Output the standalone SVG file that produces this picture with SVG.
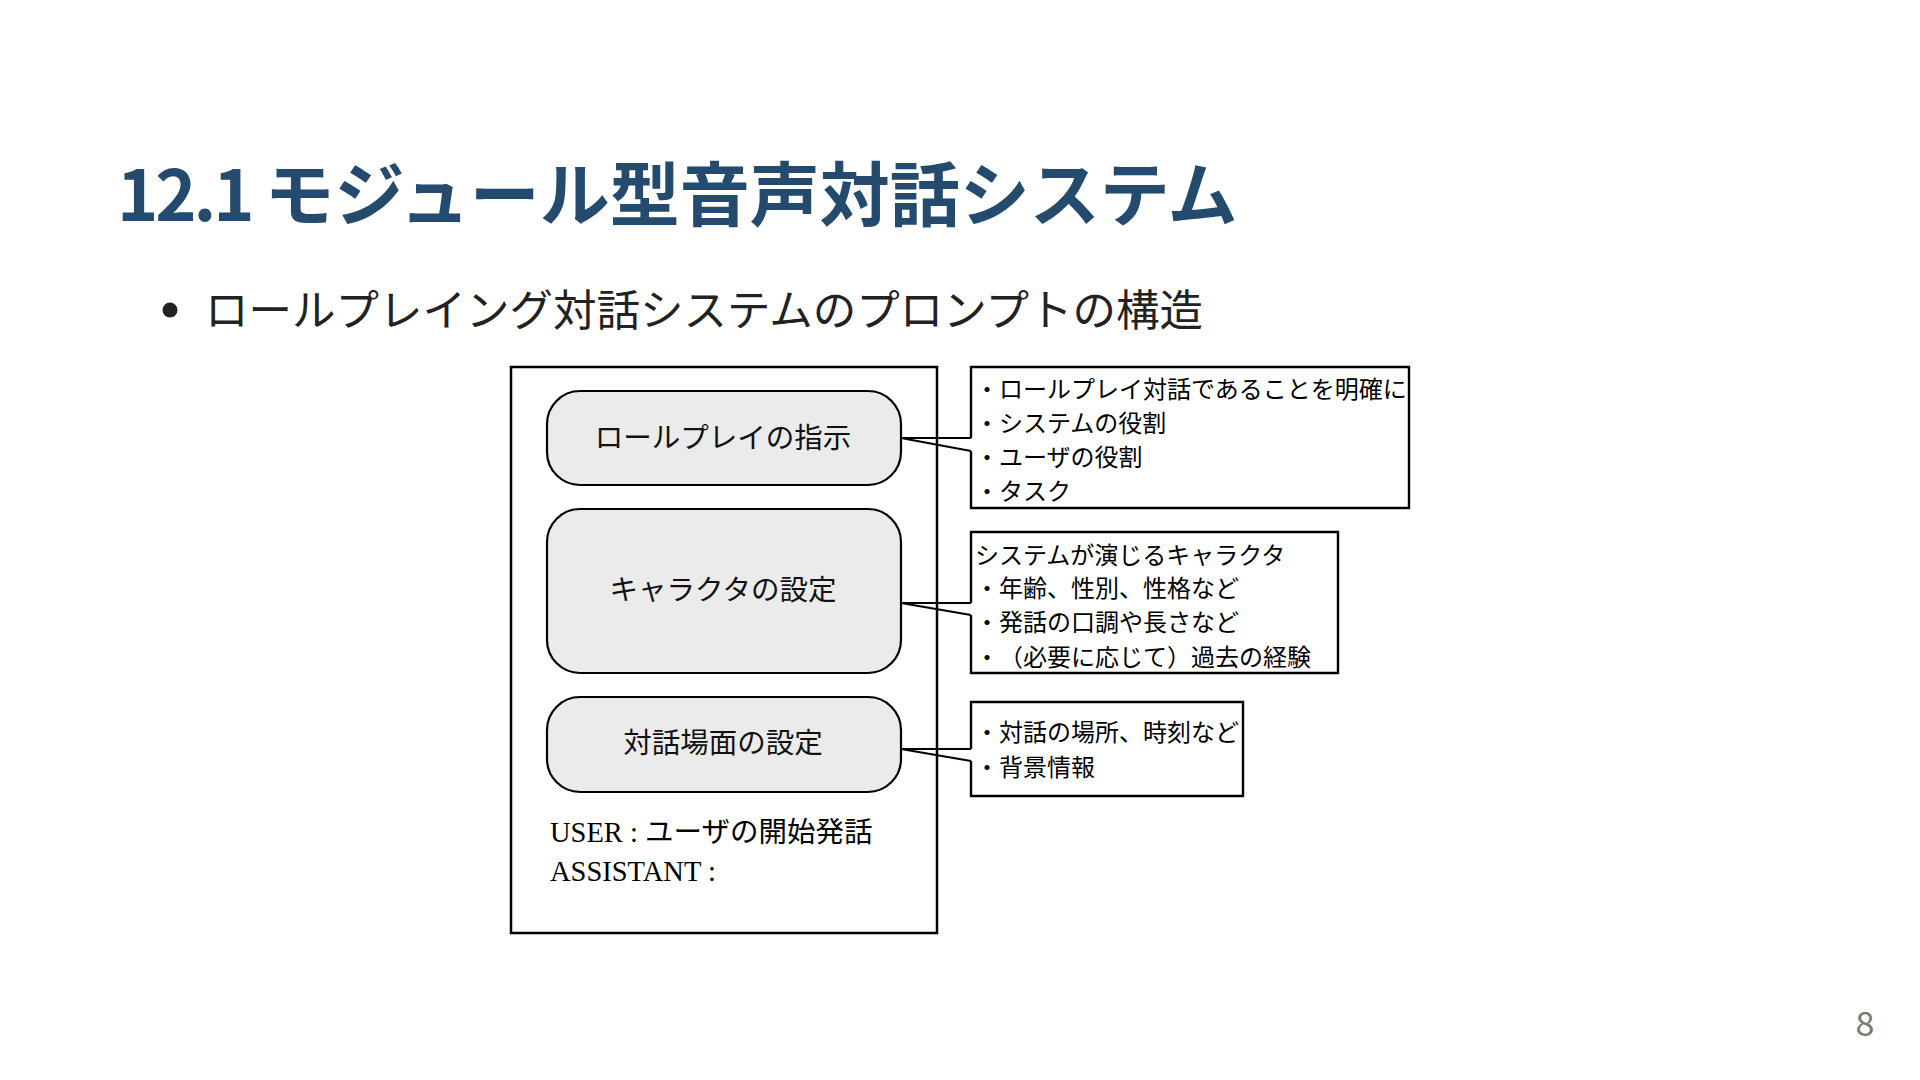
<svg xmlns="http://www.w3.org/2000/svg" width="1920" height="1080" viewBox="0 0 1920 1080">
<style>
.jp{font-family:"Noto Sans CJK JP","Noto Sans",sans-serif;text-spacing-trim:space-all;}
.title{font-size:70px;font-weight:bold;fill:#244a6e;}
.bullet{font-size:43.5px;fill:#222;}
.node{fill:#ebebeb;stroke:#000;stroke-width:2.2;}
.lbl{font-size:28.5px;fill:#111;text-anchor:middle;}
.co{fill:none;stroke:#000;stroke-width:2.4;}
.cot{font-size:24px;fill:#000;}
.frame{fill:#fff;stroke:#000;stroke-width:2.5;}
.conn{fill:none;stroke:#000;stroke-width:2.2;stroke-linejoin:miter;}
.ser{font-family:"Liberation Serif","Noto Sans CJK JP",serif;font-size:28.5px;fill:#000;}
</style>
<rect width="1920" height="1080" fill="#fff"/>
<text class="jp title" x="117" y="221"><tspan letter-spacing="-3">12.1 </tspan>モジュール型音声対話システム</text>
<circle cx="170" cy="310" r="7.5" fill="#222"/>
<text class="jp bullet" x="205" y="326">ロールプレイング対話システムのプロンプトの構造</text>

<g id="frame">
<rect class="frame" x="511" y="367" width="426" height="566"/>
<text class="ser" x="550" y="842">USER : ユーザの開始発話</text>
<text class="ser" x="550" y="881">ASSISTANT :</text>
</g>

<g id="node-role">
<rect class="node" x="547" y="391" width="354" height="94" rx="33" ry="33"/>
<text class="jp lbl" x="723" y="448">ロールプレイの指示</text>
</g>
<g id="node-character">
<rect class="node" x="547" y="509" width="354" height="164" rx="33" ry="33"/>
<text class="jp lbl" x="723" y="600">キャラクタの設定</text>
</g>
<g id="node-scene">
<rect class="node" x="547" y="697" width="354" height="95" rx="33" ry="33"/>
<text class="jp lbl" x="723" y="753">対話場面の設定</text>
</g>

<g id="callout-role">
<path class="co" d="M971,438 V367 H1409 V508 H971 V451"/>
<text class="jp cot" x="975" y="398">・ロールプレイ対話であることを明確に</text>
<text class="jp cot" x="975" y="432">・システムの役割</text>
<text class="jp cot" x="975" y="466">・ユーザの役割</text>
<text class="jp cot" x="975" y="500">・タスク</text>
</g>
<g id="callout-character">
<path class="co" d="M971,603 V532 H1338 V673 H971 V615"/>
<text class="jp cot" x="975" y="564">システムが演じるキャラクタ</text>
<text class="jp cot" x="975" y="597">・年齢、性別、性格など</text>
<text class="jp cot" x="975" y="631">・発話の口調や長さなど</text>
<text class="jp cot" y="666"><tspan x="975">・</tspan><tspan x="999">（必要に応じて）</tspan><tspan x="1191">過去の経験</tspan></text>
</g>
<g id="callout-scene">
<path class="co" d="M971,749 V702 H1243 V796 H971 V761"/>
<text class="jp cot" x="975" y="741">・対話の場所、時刻など</text>
<text class="jp cot" x="975" y="776">・背景情報</text>
</g>

<g id="connectors">
<polyline class="conn" points="971,438 901,438 971,451"/>
<polyline class="conn" points="971,603 901,603 971,615"/>
<polyline class="conn" points="971,749 901,749 971,761"/>
</g>

<text class="jp" x="1865" y="1036" font-size="34" fill="#777" text-anchor="middle">8</text>
</svg>
